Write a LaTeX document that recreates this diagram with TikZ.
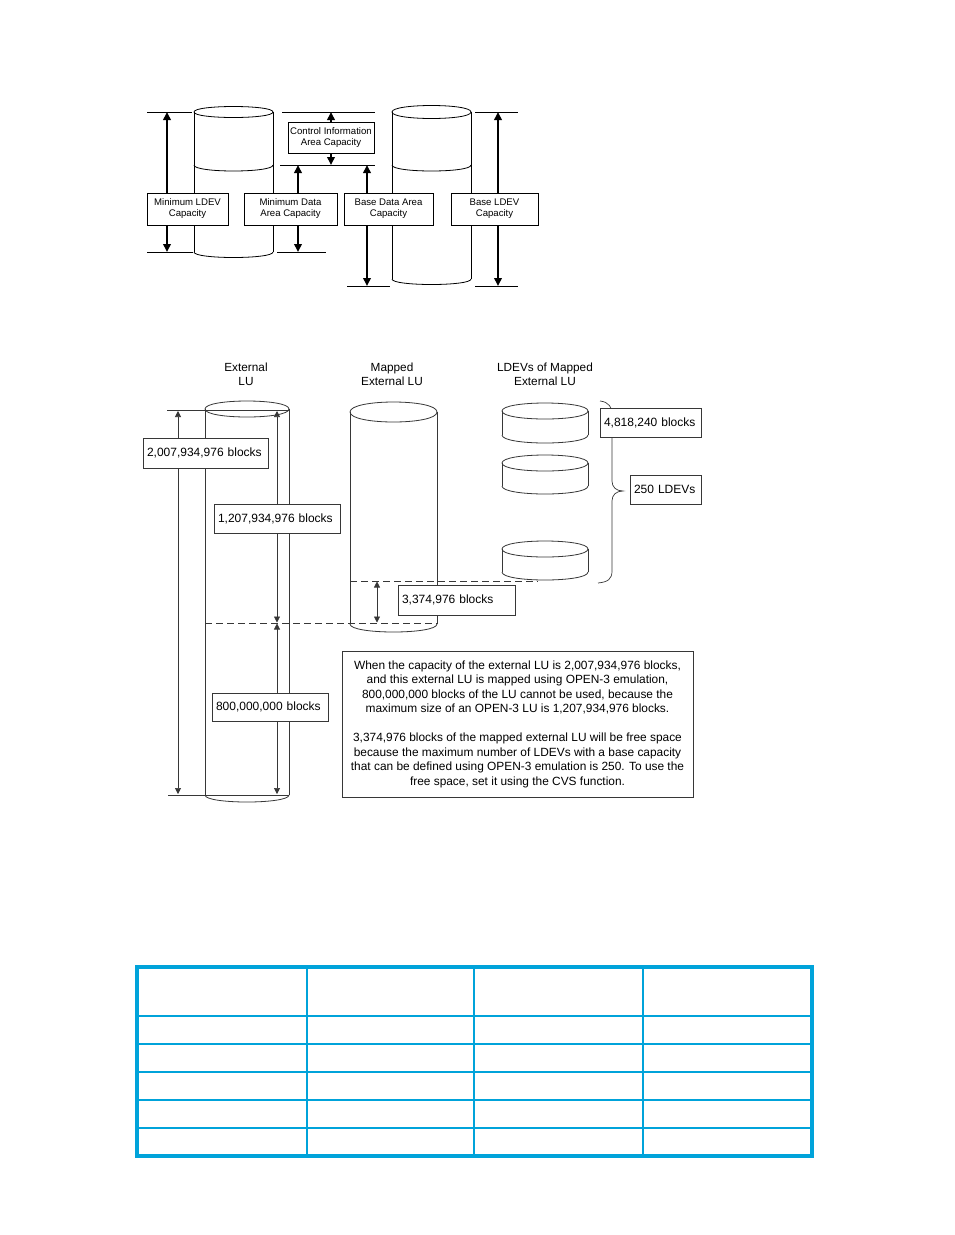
\documentclass[tikz,border=0pt]{standalone}
\usepackage{fontspec}
\setmainfont{Liberation Sans}
\usetikzlibrary{arrows.meta}
\definecolor{tblue}{RGB}{0,163,218}
\definecolor{lgray}{RGB}{55,55,55}
% full ellipse between x1 and x2 at height y with vertical radius ry
\newcommand\fullell[5][]{\draw[#1] (#2,#4) .. controls (#2,#4-4/3*#5) and (#3,#4-4/3*#5) .. (#3,#4) .. controls (#3,#4+4/3*#5) and (#2,#4+4/3*#5) .. (#2,#4) -- cycle;}
% lower half ellipse
\newcommand\lowarc[5][]{\draw[#1] (#2,#4) .. controls (#2,#4+4/3*#5) and (#3,#4+4/3*#5) .. (#3,#4);}
\begin{document}
\begin{tikzpicture}[x=1pt,y=-1pt,line width=0.8pt,
  tarr/.style={line width=1.9pt,{Triangle[length=8pt,width=7.5pt]}-{Triangle[length=8pt,width=7.5pt]}},
  marr/.style={line width=0.7pt,draw=lgray,{Triangle[length=6pt,width=6pt]}-{Triangle[length=6pt,width=6pt]}},
  mline/.style={line width=0.8pt,draw=lgray},
  dline/.style={line width=0.8pt,draw=lgray,dash pattern=on 7pt off 4pt},
  topbox/.style={draw,fill=white,line width=0.8pt,align=center,inner sep=0pt,font=\fontsize{9.6}{11}\selectfont},
  midbox/.style={draw=lgray,fill=white,line width=0.8pt,align=left,inner ysep=0pt,inner xsep=4pt,font=\fontsize{12}{14}\selectfont},
  notebox/.style={draw=lgray,fill=white,line width=0.8pt,align=center,inner sep=0pt,font=\fontsize{11.9}{14.5}\selectfont},
  lbl/.style={align=center,inner sep=0pt,font=\fontsize{11.8}{14}\selectfont},
  gridthin/.style={draw=tblue,line width=1.3pt},
  gridthick/.style={draw=tblue,line width=2.4pt},
  gridouter/.style={draw=tblue,line width=3.5pt}]
\useasboundingbox (0,0) rectangle (954,1235);
\fill[white] (0,0) rectangle (954,1235);

% ================= Top diagram =================
\draw (194,112) -- (194,252) (273,112) -- (273,252);
\fullell{194}{273}{112}{5.5}
\lowarc{194}{273}{165}{6}
\lowarc{194}{273}{252}{5.5}
\draw (392,112) -- (392,279) (471,112) -- (471,279);
\fullell{392}{471}{112}{6.5}
\lowarc{392}{471}{165}{6}
\lowarc{392}{471}{279}{5.5}

% extension lines
\coordinate (e1a) at (147,112); \coordinate (e1b) at (192,112);
\coordinate (e2a) at (147,252); \coordinate (e2b) at (193,252);
\coordinate (e3a) at (282,112); \coordinate (e3b) at (375,112);
\coordinate (e4a) at (280,165); \coordinate (e4b) at (375,165);
\coordinate (e5a) at (277,252); \coordinate (e5b) at (326,252);
\coordinate (e6a) at (347,286); \coordinate (e6b) at (390,286);
\coordinate (e7a) at (475,112); \coordinate (e7b) at (518,112);
\coordinate (e8a) at (475,286); \coordinate (e8b) at (518,286);
\foreach \i in {1,...,8} {\draw (e\i a) -- (e\i b);}

% dimension arrows
\coordinate (a1t) at (167,112); \coordinate (a1b) at (167,252);
\coordinate (a2t) at (298,165); \coordinate (a2b) at (298,252);
\coordinate (a3t) at (331,112); \coordinate (a3b) at (331,165);
\coordinate (a4t) at (367,165); \coordinate (a4b) at (367,286);
\coordinate (a5t) at (498,112); \coordinate (a5b) at (498,286);
\foreach \i in {1,...,5} {\draw[tarr] (a\i t) -- (a\i b);}

\node[topbox,minimum width=81pt,minimum height=32pt] (b1) at (187.5,209) {Minimum LDEV\\Capacity};
\node[topbox,minimum width=93pt,minimum height=32pt] (b2) at (290.5,209) {Minimum Data\\Area Capacity};
\node[topbox,minimum width=89pt,minimum height=32pt] (b3) at (388.5,209) {Base Data Area\\Capacity};
\node[topbox,minimum width=87pt,minimum height=32pt] (b4) at (494.5,209) {Base LDEV\\Capacity};
\node[topbox,minimum width=86pt,minimum height=31pt] (b5) at (331,137.5) {Control Information\\Area Capacity};

% ================= Middle diagram =================
\node[lbl] (lext) at (246,374) {External\\LU};
\node[lbl] (lmap) at (392,374) {Mapped\\External LU};
\node[lbl] (lldev) at (545,374) {LDEVs of Mapped\\External LU};

% External LU cylinder
\draw[mline] (205,409) -- (205,795) (289,409) -- (289,795);
\fullell[mline]{205}{289}{409}{8}
\lowarc[mline]{205}{289}{795}{7}
% Mapped External LU cylinder
\draw[mline] (350,412) -- (350,624) (437,412) -- (437,624);
\fullell[mline]{350}{437}{412}{10}
\lowarc[mline]{350}{437}{624}{8}
% LDEV disks
\foreach \yt/\yb in {411/435, 463/486, 549/572} {
  \draw[mline] (502,\yt) -- (502,\yb) (588,\yt) -- (588,\yb);
  \fullell[mline]{502}{588}{\yt}{8}
  \lowarc[mline]{502}{588}{\yb}{8}
}

% extension lines
\coordinate (m1a) at (167,410); \coordinate (m1b) at (289,410);
\coordinate (m2a) at (168,795); \coordinate (m2b) at (289,795);
\draw[mline] (m1a) -- (m1b);
\draw[mline] (m2a) -- (m2b);
\coordinate (d1a) at (205,623); \coordinate (d1b) at (437,623);
\coordinate (d2a) at (350,581); \coordinate (d2b) at (538,581);
\draw[dline] (d1a) -- (d1b);
\draw[dline] (d2a) -- (d2b);

% dimension arrows
\coordinate (ma1) at (178,411); \coordinate (mb1) at (178,794);
\coordinate (ma2) at (277,411); \coordinate (mb2) at (277,622.5);
\coordinate (ma3) at (277,623.5); \coordinate (mb3) at (277,794);
\coordinate (ma4) at (377,581.5); \coordinate (mb4) at (377,622.5);
\foreach \i in {1,...,4} {\draw[marr] (ma\i) -- (mb\i);}

% brace
\draw[mline,line width=0.7pt] (600,401) .. controls (609,402) and (612,407) .. (612,416) -- (612,481)
  .. controls (612,487) and (616,491) .. (623,491)
  .. controls (616,491) and (612,495) .. (612,501) -- (612,571)
  .. controls (612,579) and (608,582) .. (598,583);

\node[midbox,text width=117pt,minimum height=30pt] (n1) at (205.5,453) {2,007,934,976 blocks};
\node[midbox,text width=118pt,minimum height=29pt] (n2) at (277,518.5) {1,207,934,976 blocks};
\node[midbox,text width=108pt,minimum height=28pt] (n3) at (270,707) {800,000,000 blocks};
\node[midbox,text width=109pt,minimum height=30pt] (n4) at (456.5,600) {3,374,976 blocks};
\node[midbox,text width=93pt,minimum height=29pt] (n5) at (650.5,422.5) {4,818,240 blocks};
\node[midbox,text width=63pt,minimum height=29pt] (n6) at (665.5,489.5) {250 LDEVs};

\node[notebox,minimum width=351pt,minimum height=146pt] (note) at (517.5,724)
{When the capacity of the external LU is 2,007,934,976 blocks,\\
and this external LU is mapped using OPEN-3 emulation,\\
800,000,000 blocks of the LU cannot be used, because the\\
maximum size of an OPEN-3 LU is 1,207,934,976 blocks.\\[14.5pt]
3,374,976 blocks of the mapped external LU will be free space\\
because the maximum number of LDEVs with a base capacity\\
that can be defined using OPEN-3 emulation is 250. To use the\\
free space, set it using the CVS function.};

% ================= Table =================
\foreach \x in {307,474,643} {\draw[gridthin] (\x,967) -- (\x,1156);}
\draw[gridthick] (137,1016) -- (812,1016);
\foreach \y in {1044,1072,1100,1128} {\draw[gridthin] (137,\y) -- (812,\y);}
\draw[gridouter] (137,967) rectangle (812,1156);
\end{tikzpicture}
\end{document}
